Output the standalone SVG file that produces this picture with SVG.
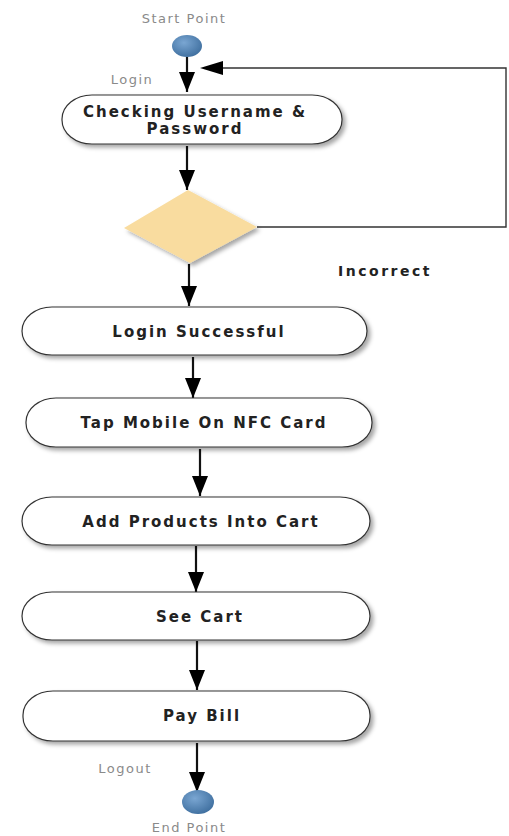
<svg xmlns="http://www.w3.org/2000/svg" width="509" height="836" viewBox="0 0 509 836">
<defs>
  <filter id="sh" x="-10%" y="-20%" width="125%" height="160%">
    <feDropShadow dx="3" dy="3" stdDeviation="2" flood-color="#000" flood-opacity="0.35"/>
  </filter>
  <radialGradient id="blue" cx="40%" cy="35%" r="70%">
    <stop offset="0" stop-color="#7aa6d2"/>
    <stop offset="1" stop-color="#3e6e9e"/>
  </radialGradient>
  <marker id="ah" viewBox="0 0 20 16" refX="20" refY="8" markerWidth="20" markerHeight="16" markerUnits="userSpaceOnUse" orient="auto">
    <path d="M0,0 L20,8 L0,16 Z" fill="#000"/>
  </marker>
</defs>
<style>
  .box{fill:#fff;stroke:#333;stroke-width:1.2;filter:url(#sh)}
  .t{font-family:"DejaVu Sans",Verdana,sans-serif;font-weight:bold;font-size:15px;fill:#222;text-anchor:middle;letter-spacing:2px}
  .lbl{font-family:"DejaVu Sans",Verdana,sans-serif;font-size:13px;fill:#8a8a8a;text-anchor:middle;letter-spacing:1.5px}
  .c{stroke:#111;stroke-width:2.2;fill:none}
  .c2{stroke:#333;stroke-width:1.4;fill:none}
</style>
<rect width="509" height="836" fill="#fff"/>
<g id="connectors">
  <path class="c" d="M187,57 L187,92" marker-end="url(#ah)"/>
  <path class="c" d="M187,146 L187,190" marker-end="url(#ah)"/>
  <path class="c2" d="M257,227 L506,227 L506,68 L222,68"/>
  <path d="M200,68 L223,61 L223,75 Z" fill="#000"/>
  <path class="c" d="M189,264 L189,306" marker-end="url(#ah)"/>
  <path class="c" d="M193,357 L193,398" marker-end="url(#ah)"/>
  <path class="c" d="M200,449 L200,496" marker-end="url(#ah)"/>
  <path class="c" d="M196,546 L196,592" marker-end="url(#ah)"/>
  <path class="c" d="M197,641 L197,690" marker-end="url(#ah)"/>
  <path class="c" d="M197,743 L197,792" marker-end="url(#ah)"/>
</g>
<g id="start">
  <text class="lbl" x="184" y="23">Start Point</text>
  <ellipse cx="187" cy="46" rx="15" ry="11" fill="url(#blue)"/>
</g>
<text class="lbl" x="132" y="84">Login</text>
<g id="check">
  <rect class="box" x="62" y="95" width="280" height="49" rx="30" ry="24"/>
  <text class="t" x="195" y="117">Checking Username &amp;</text>
  <text class="t" x="195" y="134">Password</text>
</g>
<g id="decision">
  <path d="M188,190 L257,227 L190,263 L124,228 Z" fill="#f9dc9f" filter="url(#sh)"/>
</g>
<text class="t" x="385" y="276" style="font-size:14px;letter-spacing:2.5px">Incorrect</text>
<g id="success">
  <rect class="box" x="22" y="307" width="345" height="48" rx="30" ry="24"/>
  <text class="t" x="199" y="337">Login Successful</text>
</g>
<g id="tap">
  <rect class="box" x="26" y="398" width="346" height="49" rx="30" ry="24"/>
  <text class="t" x="204" y="428">Tap Mobile On NFC Card</text>
</g>
<g id="add">
  <rect class="box" x="22" y="497" width="348" height="48" rx="30" ry="24"/>
  <text class="t" x="201" y="527">Add Products Into Cart</text>
</g>
<g id="see">
  <rect class="box" x="22" y="592" width="348" height="48" rx="30" ry="24"/>
  <text class="t" x="200" y="622">See Cart</text>
</g>
<g id="pay">
  <rect class="box" x="23" y="691" width="347" height="50" rx="30" ry="24"/>
  <text class="t" x="202" y="721">Pay Bill</text>
</g>
<text class="lbl" x="125" y="773">Logout</text>
<g id="end">
  <ellipse cx="198" cy="802" rx="16" ry="12" fill="url(#blue)"/>
  <text class="lbl" x="189" y="832">End Point</text>
</g>
</svg>
